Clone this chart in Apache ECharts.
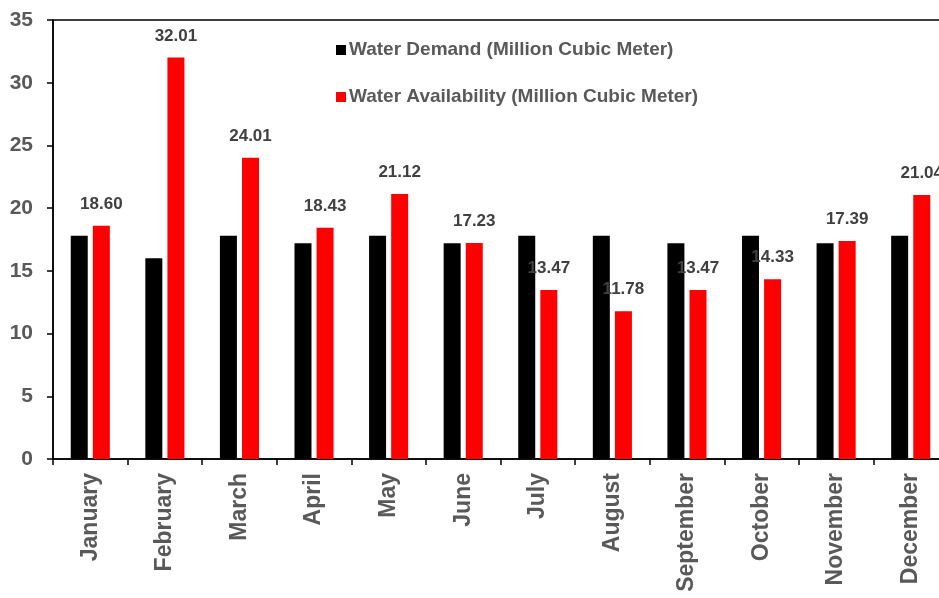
<!DOCTYPE html>
<html>
<head>
<meta charset="utf-8">
<script src="https://cdn.jsdelivr.net/npm/echarts@6/dist/echarts.min.js"></script>
<style>html,body{margin:0;padding:0;background:#fff;}#chart{width:939px;height:598px;}</style>
</head>
<body>
<div id="chart"></div>
<script>
const months = ['January','February','March','April','May','June','July','August','September','October','November','December'];
const demand = [17.8, 16.0, 17.8, 17.2, 17.8, 17.2, 17.8, 17.8, 17.2, 17.8, 17.2, 17.8];
const availability = [18.60, 32.01, 24.01, 18.43, 21.12, 17.23, 13.47, 11.78, 13.47, 14.33, 17.39, 21.04];
const demandName = 'Water Demand (Million Cubic Meter)';
const availName = 'Water Availability (Million Cubic Meter)';

const chart = echarts.init(document.getElementById('chart'));
const font = 'Liberation Sans, Arial, sans-serif';
chart.setOption({
  animation: false,
  backgroundColor: '#fff',
  grid: {left: 53, top: 20, width: 895, height: 439, outerBoundsMode: 'none', containLabel: false,
         show: true, borderColor: '#000', borderWidth: 1.5, backgroundColor: 'transparent'},
  legend: {
    orient: 'vertical', left: 331, top: 35, itemWidth: 10, itemHeight: 10, itemGap: 27,
    icon: 'rect',
    textStyle: {fontFamily: font, fontWeight: 'bold', fontSize: 19, color: '#595959', lineHeight: 20, padding: [0, 0, 0, -2]},
    data: [demandName, availName]
  },
  xAxis: {
    type: 'category', data: months,
    axisLine: {lineStyle: {color: '#000', width: 1.5}},
    axisTick: {show: true, length: 6, lineStyle: {color: '#000', width: 1.5}},
    axisLabel: {rotate: 90, margin: 14, fontFamily: font, fontWeight: 'bold', fontSize: 23, color: '#595959', interval: 0}
  },
  yAxis: {
    type: 'value', min: 0, max: 35, interval: 5,
    splitLine: {show: false},
    axisLine: {show: true, lineStyle: {color: '#000', width: 1.5}},
    axisTick: {show: true, length: 6, lineStyle: {color: '#000', width: 1.5}},
    axisLabel: {margin: 20, fontFamily: font, fontWeight: 'bold', fontSize: 21, color: '#595959'}
  },
  series: [
    {name: demandName, type: 'bar', data: demand, barWidth: 17, barGap: '30%', itemStyle: {color: '#000'}},
    {name: availName, type: 'bar', data: availability, barWidth: 17, itemStyle: {color: '#ff0000'},
     label: {show: true, position: 'top', distance: 13, fontFamily: font, fontWeight: 'bold', fontSize: 17, color: '#404040',
       formatter: p => p.value.toFixed(2)}}
  ]
});
</script>
</body>
</html>
